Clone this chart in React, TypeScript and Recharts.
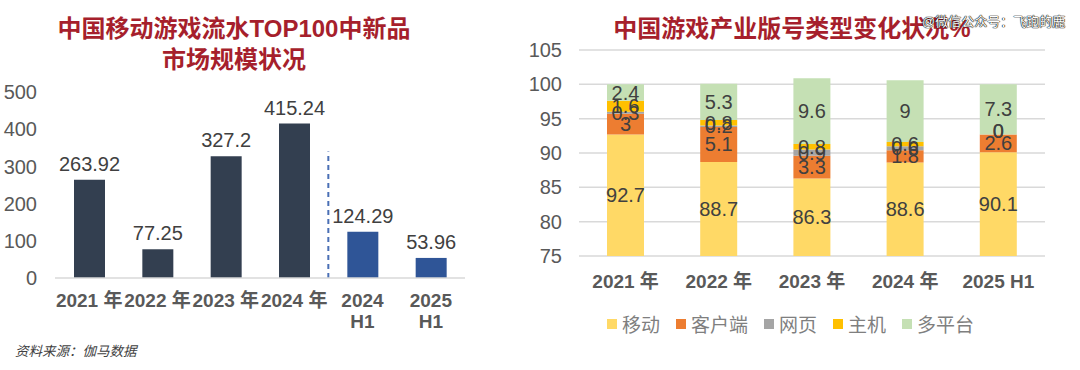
import React from "react";
import {
  BarChart,
  Bar,
  XAxis,
  YAxis,
  CartesianGrid,
  LabelList,
  Cell,
  ReferenceLine,
  Legend,
} from "recharts";

const FONT = '"Liberation Sans", "Noto Sans CJK SC", sans-serif';

// left panel: TOP100 new titles market size
const sizeCategories = ["2021 年", "2022 年", "2023 年", "2024 年", "2024 H1", "2025 H1"];
const sizeValues = [263.92, 77.25, 327.2, 415.24, 124.29, 53.96];
const sizeTicks = [0, 100, 200, 300, 400, 500];

// right panel: license type share (%)
const licenseCategories = ["2021 年", "2022 年", "2023 年", "2024 年", "2025 H1"];
const licenseSeries = ["移动", "客户端", "网页", "主机", "多平台"];
const mobileShare = [92.7, 88.7, 86.3, 88.6, 90.1];
const clientShare = [3, 5.1, 3.3, 1.8, 2.6];
const webShare = [0.3, 0.2, 0.9, 0.6, 0];
const consoleShare = [1.6, 0.8, 0.8, 0.6, 0];
const multiShare = [2.4, 5.3, 9.6, 9, 7.3];
const shareTicks = [75, 80, 85, 90, 95, 100, 105];

const sizeData = sizeCategories.map((category, i) => ({ category, value: sizeValues[i] }));
const shareData = licenseCategories.map((category, i) => ({
  category,
  mobile: mobileShare[i],
  client: clientShare[i],
  web: webShare[i],
  console: consoleShare[i],
  multi: multiShare[i],
}));

const TITLE_RED = "#a61f2c";
const AXIS_GRAY = "#595959";
const LABEL_DARK = "#404040";

// plot bounds of the right chart (chart-local px), used to centre the clipped mobile label
const R_TOP = 50;
const R_BOTTOM = 256;

function SizeTick({ x, y, payload }: any) {
  const label: string = payload.value;
  const lines = label.includes("H1") ? label.split(" ") : [label];
  return (
    <text x={x} y={y} textAnchor="middle" fill={AXIS_GRAY} fontSize={19} fontWeight="bold">
      {lines.map((line, i) => (
        <tspan key={i} x={x} dy={21}>
          {line}
        </tspan>
      ))}
    </text>
  );
}

function ShareTick({ x, y, payload }: any) {
  return (
    <text x={x} y={y} dy={24} textAnchor="middle" fill={AXIS_GRAY} fontSize={19} fontWeight="bold">
      {payload.value}
    </text>
  );
}

function MobileLabel(props: any) {
  const { x, y, width, height, value } = props;
  const bottom = Math.min(Number(y) + Number(height), R_BOTTOM);
  return (
    <text
      x={Number(x) + Number(width) / 2}
      y={(Number(y) + bottom) / 2}
      textAnchor="middle"
      dominantBaseline="central"
      fontSize={20}
      fill={LABEL_DARK}
    >
      {value}
    </text>
  );
}

// centred segment label
function SegmentLabel(props: any) {
  const { x, y, width, height, value } = props;
  if (value === undefined || value === null || Number(value) === 0) return null;
  return (
    <text
      x={Number(x) + Number(width) / 2}
      y={Number(y) + Number(height || 0) / 2}
      textAnchor="middle"
      dominantBaseline="central"
      fontSize={20}
      fill={LABEL_DARK}
    >
      {value}
    </text>
  );
}

// zero-height segments get no rect of their own, so their "0" sits on top of the client bar
function ZeroLabel(props: any) {
  const { x, y, width, value } = props;
  if (Number(value) !== 0) return null;
  return (
    <text
      x={Number(x) + Number(width) / 2}
      y={Number(y) - 3}
      textAnchor="middle"
      dominantBaseline="central"
      fontSize={20}
      fill={LABEL_DARK}
    >
      {value}
    </text>
  );
}

function ShareLegend({ payload }: any) {
  const items = [...(payload || [])].sort(
    (a: any, b: any) => licenseSeries.indexOf(a.value) - licenseSeries.indexOf(b.value)
  );
  return (
    <div style={{ display: "flex", paddingLeft: 107, fontFamily: FONT }}>
      {items.map((item: any) => (
        <span
          key={item.value}
          style={{ display: "flex", alignItems: "center", marginRight: 16, fontSize: 19, color: "#7f7f7f" }}
        >
          <span style={{ width: 10, height: 10, background: item.color, marginRight: 5 }} />
          {item.value}
        </span>
      ))}
    </div>
  );
}

export default function App() {
  return (
    <div style={{ position: "relative", width: 1080, height: 370, background: "#fff", fontFamily: FONT }}>
      <style>{"body{margin:0}"}</style>

      {/* left panel */}
      <div
        style={{
          position: "absolute",
          left: 0,
          top: 13,
          width: 468,
          textAlign: "center",
          color: TITLE_RED,
          fontSize: 24,
          fontWeight: "bold",
          lineHeight: "31px",
        }}
      >
        中国移动游戏流水TOP100中新品
        <br />
        市场规模状况
      </div>
      <div style={{ position: "absolute", left: 0, top: 0 }}>
        <BarChart width={480} height={370} data={sizeData} margin={{ top: 92, right: 15, left: 0, bottom: 32 }}>
          <XAxis
            dataKey="category"
            tickLine={false}
            axisLine={{ stroke: "#d9d9d9", strokeWidth: 1.5 }}
            tick={<SizeTick />}
            height={60}
            interval={0}
          />
          <YAxis
            domain={[0, 500]}
            ticks={sizeTicks}
            width={55}
            axisLine={false}
            tickLine={false}
            tickMargin={12}
            tick={{ fontSize: 20, fill: AXIS_GRAY }}
          />
          <ReferenceLine
            segment={[
              { x: "2024 H1", y: 0 },
              { x: "2024 H1", y: 340 },
            ]}
            position="start"
            stroke="#4a6fb5"
            strokeWidth={2}
            strokeDasharray="5 4"
          />
          <Bar dataKey="value" barSize={31} isAnimationActive={false}>
            {sizeData.map((d) => (
              <Cell key={d.category} fill={d.category.includes("H1") ? "#2f5597" : "#333f50"} />
            ))}
            <LabelList dataKey="value" position="top" offset={9} fill={LABEL_DARK} fontSize={20} />
          </Bar>
        </BarChart>
      </div>
      <div
        style={{
          position: "absolute",
          left: 15,
          top: 340,
          fontSize: 13.5,
          fontStyle: "italic",
          color: LABEL_DARK,
        }}
      >
        资料来源：伽马数据
      </div>

      {/* right panel */}
      <div
        style={{
          position: "absolute",
          left: 592,
          top: 13,
          width: 400,
          textAlign: "center",
          color: TITLE_RED,
          fontSize: 24,
          fontWeight: "bold",
          lineHeight: "31px",
        }}
      >
        中国游戏产业版号类型变化状况%
      </div>
      <div style={{ position: "absolute", left: 500, top: 0 }}>
        <BarChart
          width={580}
          height={370}
          data={shareData}
          margin={{ top: R_TOP, right: 35, left: 0, bottom: 370 - R_BOTTOM - 40 }}
        >
          <CartesianGrid vertical={false} stroke="#d9d9d9" strokeWidth={1.5} />
          <XAxis dataKey="category" tickLine={false} axisLine={false} tick={<ShareTick />} height={40} interval={0} />
          <YAxis
            domain={[75, 105]}
            ticks={shareTicks}
            allowDataOverflow
            width={79}
            axisLine={false}
            tickLine={false}
            tickMargin={11}
            tick={{ fontSize: 20, fill: AXIS_GRAY }}
          />
          <Legend
            verticalAlign="middle"
            align="center"
            content={<ShareLegend />}
            wrapperStyle={{ left: 0, top: 310, width: 580 }}
          />
          <Bar dataKey="mobile" name="移动" stackId="s" fill="#ffd966" barSize={37} isAnimationActive={false}>
            <LabelList dataKey="mobile" content={<MobileLabel />} />
          </Bar>
          <Bar dataKey="client" name="客户端" stackId="s" fill="#ed7d31" barSize={37} isAnimationActive={false}>
            <LabelList dataKey="client" content={<SegmentLabel />} />
            <LabelList dataKey="web" content={<ZeroLabel />} />
            <LabelList dataKey="console" content={<ZeroLabel />} />
          </Bar>
          <Bar dataKey="web" name="网页" stackId="s" fill="#a5a5a5" barSize={37} isAnimationActive={false}>
            <LabelList dataKey="web" content={<SegmentLabel />} />
          </Bar>
          <Bar dataKey="console" name="主机" stackId="s" fill="#ffc000" barSize={37} isAnimationActive={false}>
            <LabelList dataKey="console" content={<SegmentLabel />} />
          </Bar>
          <Bar dataKey="multi" name="多平台" stackId="s" fill="#c5e0b4" barSize={37} isAnimationActive={false}>
            <LabelList dataKey="multi" content={<SegmentLabel />} />
          </Bar>
        </BarChart>
      </div>
      <div
        style={{
          position: "absolute",
          left: 922,
          top: 11,
          fontSize: 13,
          color: "#fff",
          textShadow: "0 0 1px #000, 0 0 1px #000, 0 0 1px #000",
        }}
      >
        @微信公众号：飞跑的鹿
      </div>
    </div>
  );
}
